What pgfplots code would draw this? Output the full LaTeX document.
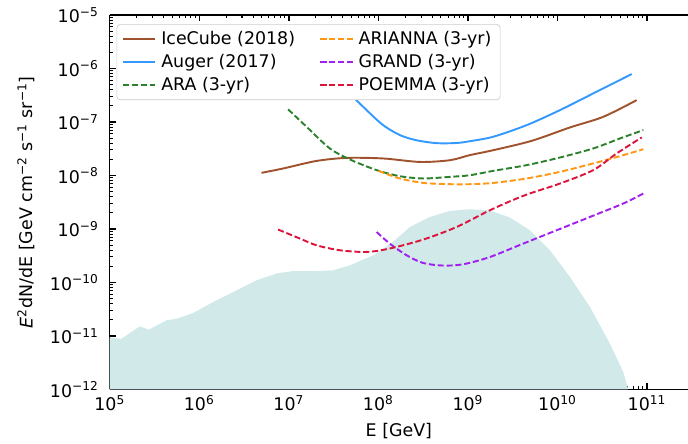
\documentclass[border=0pt]{standalone}
\usepackage{fontspec}
\setmainfont{DejaVu Sans}
\usepackage{pgfplots}
\pgfplotsset{compat=1.18}

\definecolor{icecube}{RGB}{160,82,45}
\definecolor{auger}{RGB}{51,153,255}
\definecolor{ara}{RGB}{44,130,44}
\definecolor{arianna}{RGB}{255,150,20}
\definecolor{grand}{RGB}{160,32,240}
\definecolor{poemma}{RGB}{220,20,60}
\definecolor{cosmo}{RGB}{209,234,233}
\definecolor{legframe}{RGB}{204,204,204}

% 10^n labels set in the text font
\newcommand\logtick{\pgfmathtruncatemacro\e{round(\tick)}10\textsuperscript{\ifnum\e<0 −\number-\e\else\e\fi}}

\begin{document}
\begin{tikzpicture}
\begin{axis}[
  name=ax,
  scale only axis, width=332pt, height=215pt,
  xmode=log, ymode=log, log basis x=10, log basis y=10,
  xmin=1e5, xmax=2.87e11, ymin=1e-12, ymax=1e-5,
  axis x line*=box, axis y line*=left,
  tick align=inside,
  major tick length=3.5pt, minor tick length=2pt,
  major tick style={black, line width=0.8pt},
  minor tick style={black, line width=0.6pt},
  axis line style={line width=0.8pt},
  xticklabel=\logtick, yticklabel=\logtick,
  tick label style={font=\fontsize{10}{12}\selectfont},
  yticklabel style={xshift=-2.8pt},
  label style={font=\fontsize{10}{12}\selectfont},
  xlabel={E [GeV]},
  xlabel style={at={([yshift=-23.6pt]axis description cs:0.5,0)}, anchor=center},
  ylabel={\textit{E}\textsuperscript{2}dN/dE [GeV cm\textsuperscript{−2} s\textsuperscript{−1} sr\textsuperscript{−1}]},
  ylabel style={at={([xshift=-48pt]axis description cs:0,0.5)}, anchor=center},
  legend columns=3, transpose legend, legend cell align=left,
  legend image code/.code={\draw[#1] (0pt,0pt) -- (18.4pt,0pt);},
  legend style={at={(0,1)}, anchor=north west, xshift=3.9pt, yshift=-5.2pt,
    draw=legframe, rounded corners=2pt, fill=white,
    font=\fontsize{10}{12}\selectfont, inner xsep=3pt, inner ysep=2pt, row sep=0pt,
    /tikz/every odd column/.append style={column sep=1pt},
    /tikz/every even column/.append style={column sep=12pt}},
  every axis plot/.append style={line width=1.1pt},
]

% cosmogenic flux band
\addplot[draw=none, fill=cosmo, forget plot] coordinates {
  (1e5,9.29e-12) (1.35e5,8.89e-12) (2.16e5,1.51e-11) (2.73e5,1.31e-11)
  (4.31e5,1.96e-11) (5.61e5,2.10e-11) (8.53e5,2.68e-11) (1.43e6,4.31e-11)
  (2.39e6,6.62e-11) (4.36e6,1.10e-10) (7.29e6,1.47e-10) (1.12e7,1.64e-10)
  (1.87e7,1.62e-10) (3.13e7,1.69e-10) (4.81e7,2.09e-10) (8.75e7,3.22e-10)
  (1.42e8,5.52e-10) (2.25e8,1.09e-9) (3.76e8,1.68e-9) (6.30e8,2.17e-9)
  (1.05e9,2.34e-9) (1.76e9,2.22e-9) (2.94e9,1.64e-9) (4.93e9,9.46e-10)
  (8.24e9,4.00e-10) (1.38e10,1.26e-10) (2.31e10,3.47e-11) (3.86e10,7.16e-12)
  (5.43e10,2.11e-12) (6.18e10,1e-12) (1e5,1e-12)
};

\addplot[icecube, smooth] coordinates {
  (4.95e6,1.12e-8) (8.63e6,1.35e-8) (2.04e7,1.87e-8) (4.42e7,2.13e-8)
  (1.13e8,2.08e-8) (2.91e8,1.79e-8) (6.30e8,1.93e-8) (1.05e9,2.40e-8)
  (1.92e9,2.97e-8) (5.15e9,4.44e-8) (1.38e10,7.91e-8) (3.25e10,1.25e-7)
  (7.67e10,2.56e-7)
};
\addlegendentry{IceCube (2018)}

\addplot[auger, smooth] coordinates {
  (4.01e7,5.33e-7) (4.81e7,3.42e-7) (7.38e7,1.67e-7) (1.13e8,8.73e-8)
  (1.74e8,5.68e-8) (2.67e8,4.55e-8) (4.47e8,4.02e-8) (7.48e8,4.05e-8)
  (1.05e9,4.37e-8) (1.92e9,5.30e-8) (4.53e9,8.73e-8) (1.07e10,1.67e-7)
  (2.51e10,3.42e-7) (6.75e10,7.87e-7)
};
\addlegendentry{Auger (2017)}

\addplot[ara, smooth, dash pattern=on 3.5pt off 1.6pt] coordinates {
  (9.82e6,1.72e-7) (1.58e7,8.11e-8) (2.87e7,3.20e-8) (4.81e7,1.99e-8)
  (9.55e7,1.26e-8) (1.74e8,9.70e-9) (3.17e8,8.79e-9) (6.30e8,9.42e-9)
  (1.05e9,1.01e-8) (1.92e9,1.22e-8) (4.53e9,1.56e-8) (1.07e10,2.17e-8)
  (2.51e10,3.20e-8) (4.99e10,4.92e-8) (9.10e10,7.05e-8)
};
\addlegendentry{ARA (3-yr)}

\addplot[arianna, smooth, dash pattern=on 3.5pt off 1.6pt] coordinates {
  (1.0e8,1.22e-8) (1.74e8,8.79e-9) (3.17e8,7.26e-9) (6.30e8,6.87e-9)
  (1.05e9,6.87e-9) (1.92e9,7.26e-9) (4.53e9,8.79e-9) (1.07e10,1.17e-8)
  (2.51e10,1.68e-8) (4.99e10,2.30e-8) (9.10e10,3.10e-8)
};
\addlegendentry{ARIANNA (3-yr)}

\addplot[grand, smooth, dash pattern=on 3.5pt off 1.6pt] coordinates {
  (9.55e7,8.79e-10) (1.34e8,5.33e-10) (2.07e8,3.22e-10) (3.17e8,2.31e-10)
  (5.30e8,2.07e-10) (8.87e8,2.19e-10) (1.76e9,2.99e-10) (4.15e9,5.33e-10)
  (9.79e9,9.46e-10) (2.31e10,1.68e-9) (5.43e10,2.99e-9) (9.10e10,4.60e-9)
};
\addlegendentry{GRAND (3-yr)}

\addplot[poemma, smooth, dash pattern=on 3.5pt off 1.6pt] coordinates {
  (7.59e6,9.75e-10) (1.33e7,6.62e-10) (2.04e7,4.95e-10) (3.72e7,4.00e-10)
  (7.38e7,3.72e-10) (1.34e8,4.31e-10) (3.17e8,6.34e-10) (7.48e8,1.09e-9)
  (1.84e9,2.32e-9) (4.34e9,4.28e-9) (1.07e10,7.08e-9) (2.51e10,1.26e-8)
  (4.58e10,2.58e-8) (8.73e10,5.14e-8)
};
\addlegendentry{POEMMA (3-yr)}

\end{axis}
\pgfresetboundingbox
\useasboundingbox ([xshift=-63pt,yshift=-31pt]ax.south west) rectangle ([yshift=8.6pt]ax.north east);
\end{tikzpicture}
\end{document}
